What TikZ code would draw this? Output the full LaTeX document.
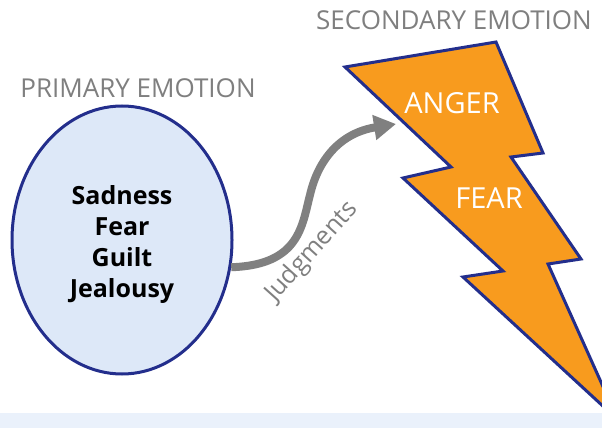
\documentclass[tikz,border=0pt]{standalone}
\usepackage{fontspec}
\setmainfont{Open Sans}
\usetikzlibrary{shapes.geometric,arrows.meta}
\definecolor{navy}{HTML}{232E8C}
\definecolor{bolt}{HTML}{F89B1E}
\definecolor{cloud}{HTML}{DDE8F8}
\definecolor{band}{HTML}{EAF1FB}
\definecolor{caption}{HTML}{7F7F7F}
\definecolor{flow}{HTML}{808080}
\tikzset{
  heading/.style={text=caption, font=\fontsize{26}{30}\selectfont, inner sep=0pt},
  boltlabel/.style={text=white, font=\fontsize{29}{34}\selectfont, inner sep=0pt},
  feeling/.style={ellipse, draw=navy, line width=3pt, fill=cloud,
    minimum width=220pt, minimum height=268pt, inner sep=0pt},
  feelingtext/.style={align=center, inner sep=0pt,
    font=\bfseries\fontsize{25}{31}\selectfont},
  boltshape/.style={draw=navy, fill=bolt, line width=3pt, line join=miter},
  judgearrow/.style={draw=flow, line width=8pt,
    -{Triangle[length=22pt,width=24pt]}},
  arrowlabel/.style={text=caption, font=\fontsize{25}{30}\selectfont, inner sep=0pt},
}
\begin{document}
\begin{tikzpicture}[x=1pt,y=-1pt]
  \useasboundingbox (0,0) rectangle (602,428);
  \fill[white] (0,0) rectangle (602,428);
  \begin{scope}
    \clip (0,0) rectangle (602,428);
    % lightning bolt
    \coordinate (b1) at (345,67);
    \coordinate (b2) at (496,42);
    \coordinate (b3) at (543,153);
    \coordinate (b4) at (511,157);
    \coordinate (b5) at (581,259);
    \coordinate (b6) at (548,264);
    \coordinate (b7) at (618,420);
    \coordinate (b8) at (463,277);
    \coordinate (b9) at (503,271);
    \coordinate (b10) at (403,178);
    \coordinate (b11) at (451,167);
    \draw[boltshape] (b1) -- (b2) -- (b3) -- (b4) -- (b5) -- (b6) -- (b7)
      -- (b8) -- (b9) -- (b10) -- (b11) -- cycle;
  \end{scope}
  % band along the bottom
  \fill[band] (0,413) rectangle (602,428);

  \node[boltlabel] (anger) at (452,103) {ANGER};
  \node[boltlabel] (fear) at (489,198) {FEAR};

  \node[heading] (primlabel) at (138,88) {PRIMARY EMOTION};
  \node[heading] (seclabel) at (454,20) {SECONDARY EMOTION};

  \node[feeling] (primary) at (122,240) {};
  \node[feelingtext] (primtext) at (122,245) {Sadness\\Fear\\Guilt\\Jealousy};

  \coordinate (target) at (396,124);
  \draw[judgearrow] (primary.-14) .. controls (300,265) and (302,225) .. (310,195)
    .. controls (318,160) and (340,133) .. (target);
  \node[arrowlabel, rotate=48] (judg) at (312,252) {Judgments};
\end{tikzpicture}
\end{document}
